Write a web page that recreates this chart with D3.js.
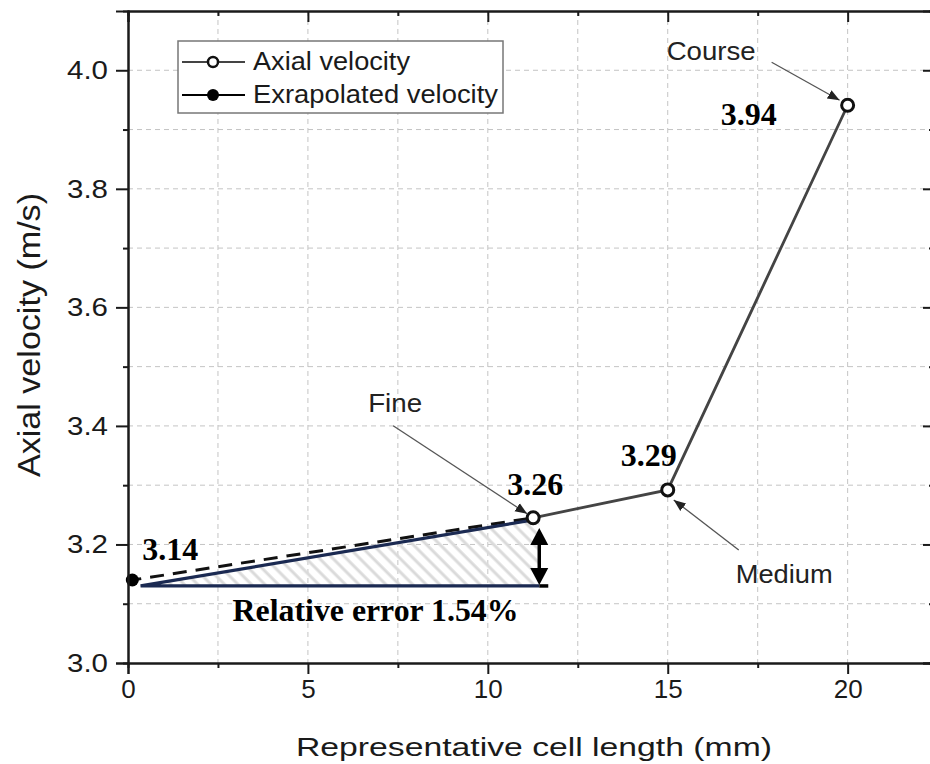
<!DOCTYPE html>
<html>
<head>
<meta charset="utf-8">
<script src="https://cdn.jsdelivr.net/npm/d3@7"></script>
<style>
  body { margin: 0; background: #fff; }
  svg { display: block; }
</style>
</head>
<body>
<svg id="chart" width="930" height="764"></svg>
<script>
// mesh study points
const cellLength = [11.26, 15, 20];
const axialVelocity = [3.245, 3.292, 3.941];
const meshNames = ["Fine", "Medium", "Course"];
const valueLabels = ["3.26", "3.29", "3.94"];

// extrapolated value (Richardson)
const extrapLength = [0.12];
const extrapVelocity = [3.14];
const extrapLabels = ["3.14"];

// error wedge
const wedgeX = [0.35, 11.43];
const wedgeY = [3.13, 3.243];
const errorText = "Relative error 1.54%";

// axes
const xMajor = [0, 5, 10, 15, 20];
const xMinor = [2.5, 7.5, 12.5, 17.5];
const yMajor = [3.0, 3.2, 3.4, 3.6, 3.8, 4.0];
const yMinor = [3.1, 3.3, 3.5, 3.7, 3.9];
const legendNames = ["Axial velocity", "Exrapolated velocity"];

const SANS = "'Liberation Sans', Arial, Helvetica, sans-serif";
const SERIF = "'Liberation Serif', 'Times New Roman', serif";

const svg = d3.select("#chart");
const pLeft = 128, pRight = 934, pTop = 11, pBottom = 663;

const x = d3.scaleLinear().domain([0, 22.4]).range([pLeft, pRight]);
const y = d3.scaleLinear().domain([3.0, 4.1]).range([pBottom, pTop]);

// grid
const grid = svg.append("g")
  .attr("stroke", "#c4c4c4")
  .attr("stroke-width", 1)
  .attr("stroke-dasharray", "5,4");
grid.selectAll(".gx").data(xMajor.concat(xMinor).filter(d => d > 0))
  .join("line")
  .attr("x1", d => x(d)).attr("x2", d => x(d))
  .attr("y1", pTop).attr("y2", pBottom);
grid.selectAll(".gy").data(yMajor.concat(yMinor).filter(d => d > 3.0))
  .join("line")
  .attr("x1", pLeft).attr("x2", pRight)
  .attr("y1", d => y(d)).attr("y2", d => y(d));

// hatched wedge
const defs = svg.append("defs");
defs.append("pattern")
  .attr("id", "hatch")
  .attr("patternUnits", "userSpaceOnUse")
  .attr("width", 9.5).attr("height", 9.5)
  .attr("patternTransform", "rotate(-45)")
  .append("line")
  .attr("x1", 2).attr("x2", 2).attr("y1", 0).attr("y2", 9.5)
  .attr("stroke", "#dadada").attr("stroke-width", 3);

svg.append("path")
  .attr("d", d3.line()([
    [x(wedgeX[0]), y(wedgeY[0])],
    [x(wedgeX[1]), y(wedgeY[0])],
    [x(wedgeX[1]), y(wedgeY[1])]
  ]) + "Z")
  .attr("fill", "url(#hatch)");

// dashed extrapolation line
svg.append("line")
  .attr("x1", x(extrapLength[0])).attr("y1", y(extrapVelocity[0]))
  .attr("x2", x(cellLength[0])).attr("y2", y(axialVelocity[0]))
  .attr("stroke", "#111").attr("stroke-width", 3)
  .attr("stroke-dasharray", "14,9")
  .attr("stroke-dashoffset", -18);

// wedge edges
svg.append("path")
  .attr("d", d3.line()([
    [x(wedgeX[1]), y(wedgeY[1])],
    [x(wedgeX[0]), y(wedgeY[0])],
    [x(wedgeX[1]), y(wedgeY[0])]
  ]))
  .attr("fill", "none")
  .attr("stroke", "#1b2a52")
  .attr("stroke-width", 3.2);
svg.append("line")
  .attr("x1", x(wedgeX[1])).attr("x2", x(wedgeX[1]) + 9)
  .attr("y1", y(wedgeY[0])).attr("y2", y(wedgeY[0]))
  .attr("stroke", "#000").attr("stroke-width", 3.5);

// double headed arrow
{
  const ax = x(wedgeX[1]);
  const y0 = y(wedgeY[1]) + 9, y1 = y(wedgeY[0]) - 1;
  svg.append("line")
    .attr("x1", ax).attr("x2", ax)
    .attr("y1", y0 + 10).attr("y2", y1 - 10)
    .attr("stroke", "#000").attr("stroke-width", 3.5);
  svg.append("path")
    .attr("d", `M${ax},${y0}L${ax - 9},${y0 + 17}L${ax + 9},${y0 + 17}Z`)
    .attr("fill", "#000");
  svg.append("path")
    .attr("d", `M${ax},${y1}L${ax - 9},${y1 - 17}L${ax + 9},${y1 - 17}Z`)
    .attr("fill", "#000");
}

// axial velocity series
svg.append("path")
  .datum(cellLength.map((d, i) => [d, axialVelocity[i]]))
  .attr("d", d3.line().x(d => x(d[0])).y(d => y(d[1])))
  .attr("fill", "none")
  .attr("stroke", "#444")
  .attr("stroke-width", 2.8);
svg.selectAll(".pt").data(cellLength)
  .join("circle")
  .attr("cx", d => x(d))
  .attr("cy", (d, i) => y(axialVelocity[i]))
  .attr("r", 6)
  .attr("fill", "#fff")
  .attr("stroke", "#111")
  .attr("stroke-width", 3);

// extrapolated point
svg.selectAll(".ex").data(extrapLength)
  .join("circle")
  .attr("cx", d => x(d))
  .attr("cy", (d, i) => y(extrapVelocity[i]))
  .attr("r", 6.5)
  .attr("fill", "#000");

// axes
function styleAxis(g) {
  g.select(".domain").attr("stroke", "#1a1a1a").attr("stroke-width", 2);
  g.selectAll(".tick line").attr("stroke", "#1a1a1a").attr("stroke-width", 2);
  g.selectAll("text").attr("font-family", SANS).attr("fill", "#1a1a1a");
}
const fmtNone = () => "";

svg.append("g").attr("transform", `translate(0,${pBottom})`)
  .call(d3.axisBottom(x).tickValues(xMinor).tickSize(5).tickFormat(fmtNone))
  .call(styleAxis);
svg.append("g").attr("transform", `translate(0,${pBottom})`)
  .call(d3.axisBottom(x).tickValues(xMajor).tickSize(11).tickPadding(6).tickFormat(d3.format("d")))
  .call(styleAxis)
  .call(g => g.selectAll("text").attr("font-size", 26));

svg.append("g").attr("transform", `translate(${pLeft},0)`)
  .call(d3.axisLeft(y).tickValues(yMinor).tickSize(5).tickFormat(fmtNone))
  .call(styleAxis);
svg.append("g").attr("transform", `translate(${pLeft},0)`)
  .call(d3.axisLeft(y).tickValues(yMajor).tickSize(12).tickPadding(8).tickFormat(d3.format(".1f")))
  .call(styleAxis)
  .call(g => g.selectAll("text")
    .attr("font-size", 26)
    .attr("textLength", 41)
    .attr("lengthAdjust", "spacingAndGlyphs"));

// top and right (inside ticks)
svg.append("g").attr("transform", `translate(0,${pTop})`)
  .call(d3.axisBottom(x).tickValues(xMinor).tickSize(5).tickFormat(fmtNone))
  .call(styleAxis);
svg.append("g").attr("transform", `translate(0,${pTop})`)
  .call(d3.axisBottom(x).tickValues(xMajor).tickSize(11).tickFormat(fmtNone))
  .call(styleAxis);
svg.append("g").attr("transform", `translate(${pRight},0)`)
  .call(d3.axisLeft(y).tickValues(yMinor).tickSize(5).tickFormat(fmtNone))
  .call(styleAxis);
svg.append("g").attr("transform", `translate(${pRight},0)`)
  .call(d3.axisLeft(y).tickValues(yMajor).tickSize(11).tickFormat(fmtNone))
  .call(styleAxis);

// axis titles
svg.append("text")
  .attr("x", 534).attr("y", 756)
  .attr("text-anchor", "middle")
  .attr("font-family", SANS).attr("font-size", 26).attr("fill", "#1a1a1a")
  .attr("textLength", 476).attr("lengthAdjust", "spacingAndGlyphs")
  .text("Representative cell length (mm)");
svg.append("text")
  .attr("transform", "translate(40,335) rotate(-90)")
  .attr("text-anchor", "middle")
  .attr("font-family", SANS).attr("font-size", 32).attr("fill", "#1a1a1a")
  .attr("textLength", 284).attr("lengthAdjust", "spacingAndGlyphs")
  .text("Axial velocity (m/s)");

// value labels
const valueOffsets = [[-26, -23], [-47, -24], [-127, 20]];
svg.selectAll(".vl").data(valueLabels)
  .join("text")
  .attr("x", (d, i) => x(cellLength[i]) + valueOffsets[i][0])
  .attr("y", (d, i) => y(axialVelocity[i]) + valueOffsets[i][1])
  .attr("font-family", SERIF).attr("font-weight", "bold")
  .attr("font-size", 32).attr("fill", "#000")
  .text(d => d);
svg.selectAll(".el").data(extrapLabels)
  .join("text")
  .attr("x", (d, i) => x(extrapLength[i]) + 10)
  .attr("y", (d, i) => y(extrapVelocity[i]) - 20)
  .attr("font-family", SERIF).attr("font-weight", "bold")
  .attr("font-size", 32).attr("fill", "#000")
  .text(d => d);
svg.append("text")
  .attr("x", x(wedgeX[0]) + 92).attr("y", y(wedgeY[0]) + 35)
  .attr("font-family", SERIF).attr("font-weight", "bold")
  .attr("font-size", 32).attr("fill", "#000")
  .attr("textLength", 286).attr("lengthAdjust", "spacingAndGlyphs")
  .text(errorText);

// mesh name callouts: [text dx, text dy, tail dx, tail dy, tip dx, tip dy, text width]
const callouts = [
  [-165, -106, -140, -92, -6, -4, 54],
  [68, 93, 71, 60, 6, 10, 97],
  [-181, -45, -76, -43, -8, -5, 89]
];
defs.append("marker")
  .attr("id", "tip")
  .attr("viewBox", "0 0 10 10")
  .attr("refX", 10).attr("refY", 5)
  .attr("markerWidth", 12).attr("markerHeight", 12)
  .attr("markerUnits", "userSpaceOnUse")
  .attr("orient", "auto")
  .append("path").attr("d", "M0,1L10,5L0,9Z").attr("fill", "#222");

meshNames.forEach((name, i) => {
  const px = x(cellLength[i]), py = y(axialVelocity[i]);
  const c = callouts[i];
  svg.append("line")
    .attr("x1", px + c[2]).attr("y1", py + c[3])
    .attr("x2", px + c[4]).attr("y2", py + c[5])
    .attr("stroke", "#555").attr("stroke-width", 1.3)
    .attr("marker-end", "url(#tip)");
  svg.append("text")
    .attr("x", px + c[0]).attr("y", py + c[1])
    .attr("font-family", SANS).attr("font-size", 25).attr("fill", "#222")
    .attr("textLength", c[6]).attr("lengthAdjust", "spacingAndGlyphs")
    .text(name);
});

// legend
const legend = svg.append("g");
legend.append("rect")
  .attr("x", 178).attr("y", 41).attr("width", 325).attr("height", 72)
  .attr("fill", "#fff").attr("stroke", "#777").attr("stroke-width", 1.5);
const legRows = legend.selectAll(".lr").data(legendNames)
  .join("g")
  .attr("transform", (d, i) => `translate(0,${62 + i * 33})`);
legRows.append("line")
  .attr("x1", 182).attr("x2", 245)
  .attr("stroke", (d, i) => i ? "#000" : "#444")
  .attr("stroke-width", 2);
legRows.append("circle")
  .attr("cx", 213).attr("r", (d, i) => i ? 6 : 5)
  .attr("fill", (d, i) => i ? "#000" : "#fff")
  .attr("stroke", "#111").attr("stroke-width", (d, i) => i ? 0 : 2.5);
legRows.append("text")
  .attr("x", 253).attr("y", 8)
  .attr("font-family", SANS).attr("font-size", 25).attr("fill", "#1a1a1a")
  .attr("textLength", (d, i) => i ? 245 : 157)
  .attr("lengthAdjust", "spacingAndGlyphs")
  .text(d => d);
</script>
</body>
</html>
